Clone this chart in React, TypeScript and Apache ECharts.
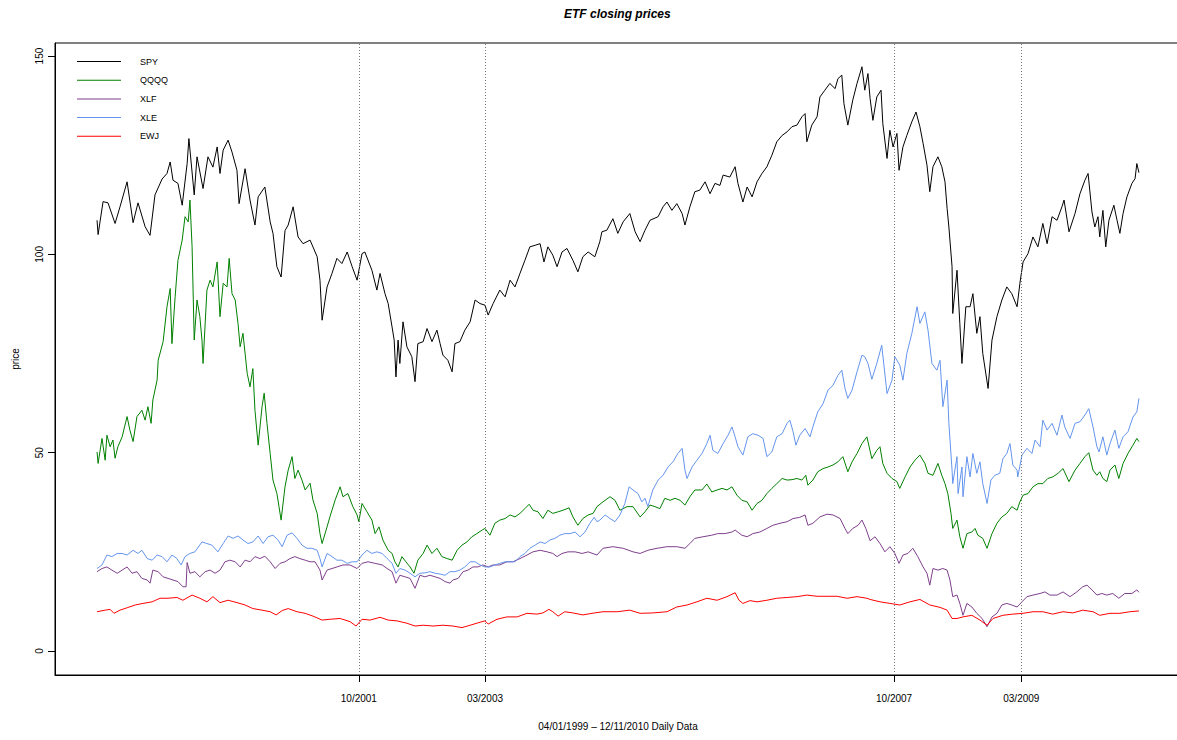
import React, { useEffect, useRef } from 'react';
import * as echarts from 'echarts';

const chartTitle = 'ETF closing prices';
const xAxisTitle = '04/01/1999 \u2013 12/11/2010 Daily Data';
const yAxisTitle = 'price';
const seriesNames = ['SPY', 'QQQQ', 'XLF', 'XLE', 'EWJ'];
const seriesColors = ['#000000', '#008000', '#7f3f8c', '#6495ed', '#ff0000'];
// trading-day index of the marked dates and their labels
const markerDays = [741, 1098, 2256, 2616];
const markerLabels = ['10/2001', '03/2003', '10/2007', '03/2009'];
const priceTicks = [0, 50, 100, 150];
const dayRange = [-119, 3068];
const priceRange = [-6.05, 153.3];

// [trading day index, closing price]
const spy: [number, number][] = [[0,108.6],[3,105],[17,113.3],[31,113],[51,107.8],[65,112],[85,118.3],[102,108],[116,113],[136,107],[150,104.8],[164,115],[184,119],[198,120.4],[207,123.3],[215,118.7],[229,117.9],[241,112.4],[255,122.9],[260,129.2],[275,115],[283,124.6],[300,116.6],[314,124.6],[328,122],[340,127.1],[348,120.4],[357,126.3],[371,128.8],[382,125.8],[396,121.2],[402,112.8],[419,121.6],[433,113.7],[447,107.4],[456,114.5],[475,117],[490,108.2],[498,105.3],[509,96.9],[521,94.3],[532,106],[541,107.4],[555,112],[569,104.4],[583,102.7],[603,103.6],[623,99.4],[631,93.5],[637,83.4],[651,91.8],[665,95.2],[679,99],[693,97.7],[708,100.6],[722,96.9],[736,93.5],[750,100.2],[758,100.6],[778,96],[792,91],[801,95.2],[815,90.1],[824,87.6],[835,81.7],[841,78.4],[846,69.1],[852,78.4],[857,72.5],[866,83],[877,76.7],[891,74.2],[900,67.9],[908,77.5],[923,78],[934,81.3],[948,78],[962,80.9],[971,77.5],[979,74.6],[993,73.3],[1005,70.4],[1013,77.5],[1027,78],[1041,80.9],[1056,83],[1070,88.5],[1084,87.6],[1098,87.2],[1107,84.7],[1121,87.6],[1140,91],[1155,89.3],[1169,93.5],[1183,91.8],[1197,95.2],[1211,98.5],[1225,101.9],[1240,102.3],[1254,102.7],[1265,98.1],[1276,101.9],[1290,99.8],[1302,96.9],[1316,100.6],[1330,101.5],[1347,98.5],[1361,95.6],[1375,99.4],[1390,100.6],[1409,99.4],[1423,103.2],[1429,105.7],[1443,106.1],[1460,109],[1474,105.3],[1489,108.2],[1508,110.3],[1523,105.7],[1537,103.2],[1551,106.1],[1565,108.6],[1588,109.5],[1602,112],[1613,113.2],[1627,111.1],[1641,112.8],[1656,110.3],[1664,107.4],[1678,112],[1692,115.8],[1706,116.2],[1721,118.3],[1735,115.3],[1749,117.9],[1763,117.4],[1772,120],[1791,119.5],[1806,122.1],[1814,117.9],[1828,113.2],[1840,117],[1854,114.5],[1868,118.3],[1882,120.4],[1896,122.1],[1910,125],[1924,128.4],[1939,130],[1953,130.9],[1967,132.2],[1981,132.6],[1995,134.7],[2004,135.5],[2009,128.4],[2023,132.6],[2038,134.7],[2046,139.7],[2060,141.4],[2074,143.1],[2089,141.8],[2097,144.3],[2108,145.2],[2114,138],[2125,132.6],[2139,138.9],[2151,143.1],[2165,147.3],[2173,141.4],[2182,145.6],[2188,139.3],[2196,133.8],[2207,139.7],[2219,141.4],[2224,133],[2236,124.2],[2244,131.3],[2253,127.1],[2264,130.5],[2270,121.2],[2281,127.1],[2292,130],[2306,133.4],[2318,135.9],[2329,132.2],[2338,128],[2349,122.5],[2357,115.8],[2366,122.1],[2380,124.6],[2391,122.1],[2400,118.3],[2406,111.6],[2411,106.9],[2420,96.9],[2422,85.1],[2434,96],[2442,82.6],[2448,72.5],[2459,86.8],[2471,86.8],[2479,90.1],[2490,80.1],[2499,84.3],[2507,75],[2522,66.2],[2533,78.4],[2547,84.3],[2561,88.5],[2575,91.8],[2589,90.1],[2604,86.8],[2612,92.7],[2621,98.1],[2635,100.2],[2649,104.4],[2663,101.9],[2677,107.8],[2689,102.7],[2703,109.5],[2717,108.6],[2731,112],[2737,113.7],[2751,105.7],[2768,110.3],[2782,115.3],[2796,118.7],[2805,120.4],[2816,110.7],[2824,106.9],[2833,109.5],[2838,104.4],[2847,111.1],[2855,101.9],[2864,108.6],[2878,112.4],[2887,108.6],[2895,105.3],[2904,110.3],[2915,114.5],[2929,117.9],[2938,119.1],[2943,122.9],[2949,120.6]];

const qqqq: [number, number][] = [[0,50.2],[3,47.3],[14,53.6],[23,48.1],[28,54.4],[37,51.5],[45,53.2],[51,48.6],[59,51.5],[71,54],[85,59.1],[93,55.7],[102,52.8],[113,59.1],[127,60.7],[136,58.2],[144,61.6],[153,57.4],[158,63.3],[170,68.3],[173,73.3],[187,78],[198,86.8],[207,91.4],[212,77.5],[221,89.3],[229,98.5],[241,103.6],[249,109.5],[258,108.2],[263,113.7],[269,101.9],[275,78.4],[283,88.5],[291,84.3],[297,78.4],[300,72.5],[311,91],[320,93.5],[328,91.8],[340,98.1],[348,84.3],[357,92.7],[368,91.8],[374,99],[382,90.1],[391,88.5],[399,82.6],[405,76.7],[413,80.1],[425,70],[433,66.6],[441,71.2],[447,60.7],[456,51.9],[467,61.6],[473,65],[481,57.4],[490,49.8],[498,43.1],[509,39.7],[515,36.4],[521,33],[532,41.4],[541,45.6],[552,49],[560,43.5],[569,45.6],[580,43.1],[589,40.6],[603,42.3],[611,38.1],[623,34.7],[631,29.6],[637,27.1],[651,31.3],[659,33.8],[674,38.1],[688,41.4],[696,38.9],[710,39.7],[724,36.4],[736,34.3],[741,32.6],[750,37.2],[764,35.1],[778,33],[787,29.6],[798,31.3],[809,28],[824,25.4],[835,24.6],[843,22.5],[852,21.2],[863,23.8],[874,22.5],[886,21.2],[897,19.6],[908,22.9],[923,24.6],[934,26.7],[948,24.6],[962,25.9],[976,23.8],[991,23.3],[1005,22.9],[1019,25.4],[1033,26.7],[1047,27.5],[1061,28.8],[1075,29.6],[1090,30.5],[1098,30.9],[1112,29.2],[1126,32.2],[1140,33],[1155,33.4],[1169,34.3],[1183,33.8],[1197,34.7],[1211,35.9],[1223,37],[1234,35.5],[1248,35.1],[1262,33.4],[1276,35.5],[1290,34.7],[1305,35.1],[1319,35.5],[1336,36.1],[1347,33.8],[1361,31.7],[1375,33.4],[1390,34.3],[1404,34.7],[1415,36.4],[1432,37.6],[1452,38.9],[1466,38],[1480,35.5],[1500,36.4],[1517,36.4],[1537,33.8],[1551,35.1],[1565,36.8],[1579,36.4],[1593,35.9],[1607,38.5],[1622,38],[1636,38.5],[1650,38],[1664,36.8],[1678,38.9],[1692,40.6],[1712,40.6],[1726,42.1],[1740,40.1],[1755,40.6],[1769,41],[1783,40.6],[1797,41.4],[1811,39.3],[1825,38],[1840,37.6],[1854,35.5],[1868,37.2],[1882,38],[1896,39.7],[1910,41],[1924,42.2],[1939,43.5],[1953,43.1],[1967,43.2],[1981,43.5],[1995,43.1],[2006,44.3],[2012,41.8],[2026,43.1],[2040,45.2],[2055,46],[2069,46.4],[2083,46.9],[2097,47.7],[2111,49],[2125,45.2],[2137,47.7],[2151,49.8],[2165,52.3],[2179,54],[2193,48.5],[2207,50.6],[2216,51.5],[2224,47.3],[2236,44.8],[2250,43.5],[2264,42.7],[2272,41],[2287,43.9],[2301,46.4],[2315,48.1],[2329,49.4],[2343,47.3],[2352,44.8],[2366,44.3],[2380,47.3],[2391,44.3],[2400,42.2],[2408,39.7],[2417,34.7],[2422,30.9],[2434,33],[2442,28.8],[2451,25.9],[2462,29.6],[2476,30],[2485,30.9],[2493,29.2],[2507,28.4],[2519,25.9],[2533,29.6],[2547,32.2],[2561,33.8],[2575,34.7],[2589,36.4],[2604,35.5],[2612,37.6],[2621,39.3],[2635,39.7],[2649,41.4],[2663,42.2],[2677,42.2],[2691,43.5],[2705,43.9],[2720,44.8],[2734,46],[2751,42.7],[2768,45.6],[2782,47.3],[2796,49],[2807,50],[2819,45.6],[2830,44.3],[2838,45.2],[2847,43.5],[2858,42.7],[2867,45.6],[2881,46.9],[2892,43.5],[2904,47.3],[2918,49.8],[2932,51.9],[2943,53.6],[2949,52.8]];

const xlf: [number, number][] = [[0,20],[14,20.8],[28,21.2],[42,20.4],[57,19.6],[71,20.4],[85,21.2],[99,19.6],[113,20],[127,18.3],[142,17.9],[150,17.1],[158,20.4],[173,20],[187,18.7],[201,18.3],[215,17.9],[229,17.5],[243,16.2],[252,16.2],[255,22.3],[263,19.6],[277,20],[291,18.7],[306,20],[320,20.4],[334,19.6],[348,20.4],[362,22.5],[376,22.9],[391,22.5],[405,21.2],[419,22.9],[433,22.5],[447,23.8],[461,23.3],[475,23.9],[490,22.5],[504,20.8],[518,22.1],[532,22.5],[546,23.3],[560,23.8],[574,23.3],[589,22.9],[603,22.5],[617,22.5],[631,20.4],[637,17.9],[651,20.4],[665,20.8],[679,21.2],[696,21.7],[716,21.7],[736,20.8],[750,22.1],[767,22.5],[787,22.1],[807,21.7],[821,20.8],[835,20],[846,17.1],[857,19.1],[872,18.7],[886,18.3],[900,15.8],[914,19.1],[928,18.7],[942,19.1],[957,18.7],[971,18.3],[985,17.5],[999,17.1],[1007,17.9],[1022,18.3],[1036,20],[1050,20.4],[1064,21.2],[1078,21.2],[1092,21.7],[1107,21.2],[1121,21.7],[1140,21.7],[1160,22.5],[1177,22.5],[1197,23.3],[1217,24.2],[1234,25],[1254,25.4],[1274,25],[1290,24.6],[1302,23.8],[1316,24.6],[1333,25],[1353,25],[1373,24.6],[1390,25],[1415,24.2],[1432,25.9],[1460,26.3],[1489,25.9],[1517,25],[1537,24.6],[1559,25.4],[1585,25.9],[1613,26.3],[1641,26.3],[1664,25.9],[1678,27.1],[1692,28.4],[1715,28.8],[1740,29.2],[1757,29.6],[1777,29.6],[1797,30],[1806,30.5],[1825,29.2],[1840,28.8],[1856,29.6],[1876,30],[1896,30.9],[1913,31.7],[1933,32.2],[1953,32.6],[1970,33.4],[1989,33.7],[2004,34.3],[2012,31.7],[2026,32.2],[2046,33.8],[2066,34.5],[2083,34.3],[2103,33.4],[2117,30.9],[2125,29.6],[2139,30.9],[2154,31.7],[2165,33],[2176,30.9],[2188,27.8],[2202,28.8],[2216,27.1],[2230,25],[2244,26.3],[2258,24.6],[2270,22.1],[2281,24.2],[2295,24.6],[2309,25.9],[2323,23.8],[2338,21.2],[2349,19.6],[2357,16.6],[2366,20.8],[2380,20.4],[2394,20.8],[2406,20.4],[2414,17.9],[2422,13.7],[2434,14.1],[2442,12],[2451,9],[2462,12],[2476,11.1],[2490,9.5],[2505,8.2],[2519,6.1],[2533,8.6],[2547,9.5],[2561,11.6],[2575,12],[2589,11.6],[2604,11.1],[2618,12.4],[2632,13.7],[2649,14.1],[2669,14.5],[2683,14.9],[2697,14.1],[2717,14.1],[2734,14.9],[2754,13.7],[2773,14.9],[2790,16.2],[2802,16.6],[2816,15.4],[2830,14.1],[2844,14.5],[2858,14.1],[2875,14.5],[2892,13.3],[2909,14.5],[2929,14.5],[2943,15.4],[2949,14.8]];

const xle: [number, number][] = [[0,20.8],[14,21.7],[28,24.2],[42,23.8],[57,24.6],[71,24.6],[85,24.2],[102,25.4],[116,24.6],[127,25.4],[142,23.3],[156,22.9],[170,24.2],[184,23.8],[198,22.5],[212,24.2],[226,23.3],[238,21.7],[249,23.8],[263,24.6],[277,25],[297,27.5],[311,27.1],[325,26.7],[342,25],[357,27.1],[371,29],[385,28.4],[399,29],[413,28],[427,27.1],[441,27.5],[456,29],[470,27.1],[484,28.8],[498,29.2],[512,28],[524,26.3],[538,29.2],[552,29.8],[566,28.4],[580,26.7],[594,25.9],[608,25.9],[623,25.4],[631,23.3],[637,21.2],[651,24.6],[665,23.8],[679,22.9],[693,22.9],[708,22.1],[722,22.5],[736,22.5],[750,24.2],[764,25.4],[778,24.6],[792,25],[807,24.6],[821,23.3],[835,22.1],[846,19.6],[857,20.8],[872,20.4],[886,19.6],[900,18.7],[914,19.6],[928,19.7],[942,20],[957,19.6],[971,19.4],[985,19.1],[999,20],[1013,20],[1027,20.4],[1041,21.2],[1056,22.5],[1070,22.5],[1084,21.7],[1098,21.2],[1112,21.2],[1126,21.7],[1140,22.1],[1155,22.5],[1169,22.5],[1183,22.5],[1197,23.8],[1211,24.6],[1225,25.9],[1240,26.7],[1254,27.5],[1268,27.1],[1282,28],[1296,28.4],[1310,29.2],[1324,29.6],[1339,29.6],[1353,30],[1367,28.8],[1381,30],[1395,32.2],[1407,33.7],[1415,32.6],[1423,33],[1438,34.3],[1452,33.4],[1466,32.6],[1480,34.3],[1494,37.2],[1506,41.4],[1517,40.6],[1531,39.7],[1542,37.6],[1551,38.5],[1559,36.4],[1573,40.6],[1588,43.1],[1602,44.3],[1616,46.4],[1630,47.7],[1644,49.8],[1656,51.1],[1664,45.6],[1670,43.5],[1684,46.4],[1698,48.1],[1712,49.8],[1726,52.3],[1735,54.4],[1743,50.6],[1757,49.8],[1772,52.3],[1786,54.4],[1797,56.5],[1806,54],[1814,51.5],[1828,49.4],[1842,54],[1856,54.8],[1871,54.4],[1885,53.6],[1896,49],[1910,50.2],[1924,54],[1939,54.8],[1953,57.4],[1961,58.2],[1970,55.3],[1978,51.9],[1989,54.4],[2004,56.1],[2018,54],[2026,56.5],[2040,60.3],[2055,62.4],[2069,65.8],[2083,67],[2097,69.5],[2108,70.8],[2117,66.2],[2125,63.7],[2137,65.8],[2151,70.4],[2165,74.6],[2173,74.2],[2182,72.5],[2193,68.5],[2207,72.5],[2221,77.1],[2236,64.9],[2250,68.3],[2258,74.2],[2272,72.1],[2281,68.3],[2292,75],[2306,80],[2321,86.8],[2329,82.6],[2343,85.5],[2352,80.9],[2363,72.5],[2377,70.8],[2386,73.3],[2394,61.6],[2406,68.3],[2411,57.4],[2420,45.6],[2422,42.2],[2434,49],[2437,39.7],[2448,46.4],[2451,38.9],[2462,49],[2471,43.9],[2479,49.8],[2490,44.8],[2499,47.7],[2507,42.2],[2519,37.2],[2530,43.1],[2541,44.3],[2555,44.8],[2564,48.5],[2575,49.8],[2584,52.3],[2592,46.9],[2604,45.6],[2606,43.9],[2618,49.4],[2632,51.1],[2646,49.8],[2655,53.2],[2669,51.5],[2677,58.2],[2689,55.7],[2703,57.4],[2717,54.4],[2731,59.5],[2739,56.5],[2754,53.6],[2768,57.4],[2782,57.8],[2796,59.5],[2807,61.1],[2819,56.5],[2830,51.5],[2836,50.2],[2847,54],[2858,49.4],[2867,52.3],[2881,55.7],[2892,51.1],[2904,54],[2918,55.3],[2932,59],[2943,60.3],[2949,63.7]];

const ewj: [number, number][] = [[0,9.9],[23,10.3],[37,10.5],[48,9.5],[65,10.3],[85,10.9],[108,11.6],[130,12],[156,12.4],[178,13.3],[201,13.3],[226,13.5],[243,12.8],[269,14.1],[291,13.3],[311,12.4],[328,13.7],[348,12.2],[371,12.8],[396,12.2],[419,11.6],[441,10.7],[467,10.3],[490,9.9],[507,9.1],[524,10.2],[541,10.7],[566,9.9],[589,9.5],[611,8.8],[637,7.8],[659,8],[688,8.2],[716,7.4],[733,6.3],[750,8],[773,7.8],[801,8.5],[824,7.8],[849,7.6],[877,7],[900,6.3],[923,6.5],[951,6.3],[979,6.5],[1007,6.3],[1033,5.9],[1056,6.5],[1078,7.1],[1098,7.6],[1107,6.8],[1132,8],[1160,8.6],[1189,8.6],[1217,9.5],[1245,9.3],[1262,9.6],[1279,10.5],[1290,9.9],[1305,8.8],[1324,9.9],[1347,9.6],[1375,9.1],[1401,9.5],[1432,9.9],[1472,9.9],[1508,10.3],[1537,9.5],[1573,9.6],[1613,9.9],[1641,11.1],[1670,11.6],[1698,12.4],[1726,13.3],[1755,12.8],[1783,13.7],[1806,14.7],[1817,12.8],[1828,12],[1848,12.7],[1868,12.4],[1896,12.8],[1924,13.3],[1953,13.5],[1981,13.7],[2009,14.1],[2038,13.8],[2066,13.8],[2094,13.8],[2123,13.3],[2151,13.7],[2179,13.3],[2188,13],[2216,12.4],[2244,12],[2272,11.6],[2301,12.4],[2329,13],[2357,11.6],[2386,11],[2406,10.3],[2420,8.2],[2434,8.2],[2451,8.6],[2476,9],[2499,7.8],[2519,6.5],[2536,8.2],[2564,9],[2592,9.3],[2621,9.5],[2649,9.9],[2677,9.9],[2705,9.3],[2734,9.9],[2762,9.6],[2790,10.3],[2819,9.9],[2838,9],[2867,9.5],[2895,9.5],[2923,9.9],[2949,10.1]];

const FONT = '"Liberation Sans", Arial, Helvetica, sans-serif';

export default function App() {
  const ref = useRef<HTMLDivElement>(null);
  useEffect(() => {
    const chart = echarts.init(ref.current!, null, { renderer: 'svg' });
    const allSeries = [spy, qqqq, xlf, xle, ewj];
    chart.setOption({
      animation: false,
      backgroundColor: '#ffffff',
      textStyle: { fontFamily: FONT },
      title: {
        text: chartTitle,
        left: 564,
        top: 8,
        padding: 0,
        textStyle: { fontSize: 12, fontWeight: 'bold', fontStyle: 'italic', color: '#000', fontFamily: FONT },
      },
      legend: {
        data: seriesNames,
        orient: 'vertical',
        left: 77,
        top: 55.5,
        padding: 0,
        itemWidth: 44,
        itemHeight: 1,
        itemGap: 6.7,
        icon: 'rect',
        textStyle: { fontSize: 9, color: '#000', lineHeight: 12, padding: [0, 0, 0, 14], fontFamily: FONT },
      },
      grid: {
        left: 55,
        top: 43,
        width: 1126,
        bottom: 65,
        outerBoundsMode: 'none',
        containLabel: false,
        show: true,
        borderColor: '#000',
        borderWidth: 1,
      },
      xAxis: {
        type: 'value',
        min: dayRange[0],
        max: dayRange[1],
        name: xAxisTitle,
        nameLocation: 'middle',
        nameGap: 46,
        nameTextStyle: { fontSize: 10, color: '#000', fontFamily: FONT },
        axisLine: { show: true, onZero: false, lineStyle: { color: '#000', width: 1 } },
        axisTick: { show: true, length: 7, customValues: markerDays, lineStyle: { color: '#000' } },
        axisLabel: {
          customValues: markerDays,
          formatter: (v: number) => {
            const i = markerDays.indexOf(Math.round(v));
            return i >= 0 ? markerLabels[i] : '';
          },
          margin: 18,
          fontSize: 10,
          color: '#000',
          fontFamily: FONT,
        },
        splitLine: { show: false },
      },
      yAxis: {
        type: 'value',
        min: priceRange[0],
        max: priceRange[1],
        name: yAxisTitle,
        nameLocation: 'middle',
        nameGap: 35,
        nameTextStyle: { fontSize: 10, color: '#000', fontFamily: FONT },
        axisLine: { show: true, onZero: false, lineStyle: { color: '#000', width: 1 } },
        axisTick: { show: true, length: 7, customValues: priceTicks, lineStyle: { color: '#000' } },
        axisLabel: { customValues: priceTicks, rotate: 90, margin: 11, fontSize: 10, color: '#000', fontFamily: FONT },
        splitLine: { show: false },
      },
      series: allSeries.map((d, i) => ({
        name: seriesNames[i],
        type: 'line',
        data: d,
        symbol: 'none',
        showSymbol: false,
        color: seriesColors[i],
        itemStyle: { color: seriesColors[i] },
        lineStyle: { width: 1, color: seriesColors[i] },
        emphasis: { disabled: true },
        markLine:
          i === 0
            ? {
                silent: true,
                symbol: 'none',
                label: { show: false },
                lineStyle: { color: '#777', type: [1, 2], width: 1 },
                data: markerDays.map((x) => ({ xAxis: x })),
              }
            : undefined,
      })),
    });
    return () => chart.dispose();
  }, []);
  return <div ref={ref} style={{ position: 'fixed', left: 0, top: 0, width: 1177, height: 740 }} />;
}
